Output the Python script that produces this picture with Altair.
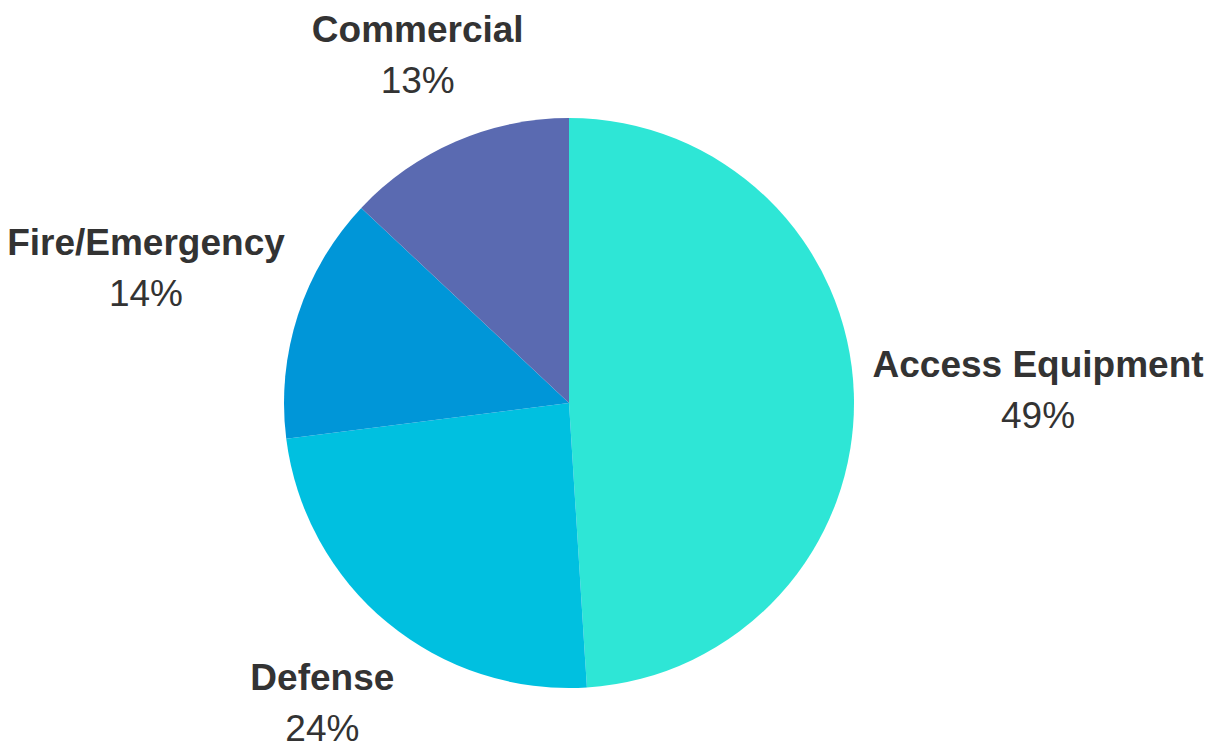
import altair as alt
import pandas as pd
import numpy as np

categories = ["Access Equipment", "Defense", "Fire/Emergency", "Commercial"]
shares = [49, 24, 14, 13]
colors = ["#2EE6D6", "#00C0E0", "#0096D8", "#5A6AB1"]

R = 285
FS = 37
CX, CY = 561, 395

df = pd.DataFrame({"category": categories, "share": shares})
df["pct"] = df["share"].astype(str) + "%"
df["order"] = range(len(df))
total = df["share"].sum()
df["mid"] = df["share"].cumsum() - df["share"] / 2
ang = df["mid"] / total * 2 * np.pi

# rough text width: narrow glyphs count as half a character
narrow = set("iIlrtfj/ ")
units = df["category"].apply(lambda s: sum(0.5 if ch in narrow else 1.0 for ch in s))
half_w = 11.7 * units
# label distance from the centre grows with the label's horizontal extent
df["lr"] = R + 69 + 0.68 * np.abs(np.sin(ang)) * half_w

theta_scale = alt.Scale(domain=[0, total])

arcs = alt.Chart(df).mark_arc(radius=R).encode(
    theta=alt.Theta("share:Q", stack=True, scale=theta_scale),
    order=alt.Order("order:Q"),
    color=alt.Color("category:N", scale=alt.Scale(domain=categories, range=colors), legend=None),
    x=alt.value(CX),
    y=alt.value(CY),
)

tbase = alt.Chart(df).encode(
    theta=alt.Theta("mid:Q", stack=None, scale=theta_scale),
    radius=alt.Radius("lr:Q", scale=None),
    x=alt.value(CX),
    y=alt.value(CY),
)

names = tbase.mark_text(
    font="Liberation Sans", fontSize=FS, fontWeight="bold", color="#333333",
    align="center", baseline="middle", dy=-22
).encode(text="category:N")

pcts = tbase.mark_text(
    font="Liberation Sans", fontSize=FS, fontWeight="normal", color="#333333",
    align="center", baseline="middle", dy=29
).encode(text="pct:N")

chart = alt.layer(arcs, names, pcts).properties(
    width=1203, height=734, padding=0, autosize="none", background="white"
).configure_view(stroke=None)

chart.save("out.html", embed_options={"renderer": "svg", "actions": False})
